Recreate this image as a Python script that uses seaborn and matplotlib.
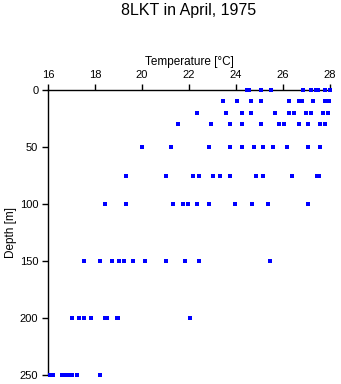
import numpy as np
import pandas as pd
import seaborn as sns
from matplotlib import pyplot as plt

# temperature readings [degC] per depth [m]
t_0 = [24.46, 24.57, 25.08, 25.48, 26.86, 27.19, 27.39, 27.47, 27.78, 28.0]
t_10 = [23.45, 24.06, 24.65, 25.08, 26.27, 26.68, 26.79, 27.29, 27.78, 27.97]
t_20 = [22.35, 23.56, 24.26, 24.65, 25.67, 26.27, 26.47, 26.98, 27.19, 27.71, 27.90]
t_30 = [21.55, 22.95, 23.76, 24.27, 25.08, 25.84, 26.06, 26.68, 27.08, 27.59, 27.78]
t_50 = [20.02, 21.23, 22.86, 23.76, 24.27, 24.77, 25.16, 25.58, 26.18, 27.08, 27.59]
t_75 = [19.31, 21.03, 22.15, 22.44, 23.04, 23.34, 23.76, 24.87, 25.16, 26.37, 27.46, 27.52]
t_100 = [18.41, 19.31, 21.34, 21.74, 21.95, 22.35, 22.86, 23.97, 24.67, 25.38, 27.08]
t_150 = [17.53, 18.21, 18.72, 19.00, 19.22, 19.63, 20.14, 21.04, 21.85, 22.44, 25.46]
t_200 = [17.01, 17.30, 17.52, 17.81, 18.42, 18.51, 18.92, 18.99, 22.03]
t_250 = [16.10, 16.20, 16.59, 16.71, 16.81, 16.92, 17.02, 17.22, 18.21]

depths = [0, 10, 20, 30, 50, 75, 100, 150, 200, 250]
temps = [t_0, t_10, t_20, t_30, t_50, t_75, t_100, t_150, t_200, t_250]

df = pd.DataFrame({
    'temp': [t for row in temps for t in row],
    'depth': [d for d, row in zip(depths, temps) for _ in row],
})

sns.set_style('ticks')
plt.rcParams['font.family'] = ['Liberation Sans', 'DejaVu Sans']
plt.rcParams['text.color'] = 'black'
plt.rcParams['axes.labelcolor'] = 'black'
plt.rcParams['xtick.color'] = 'black'
plt.rcParams['ytick.color'] = 'black'

fig = plt.figure(figsize=(3.41, 3.84), dpi=100)
ax = fig.add_axes([48 / 341, 1 - 375 / 384, 282 / 341, 285 / 384])

sns.scatterplot(data=df, x='temp', y='depth', ax=ax, color='#0000ff',
                marker='s', s=6, linewidth=0, clip_on=False, zorder=5)

ax.set_xlim(16, 28)
ax.set_ylim(250, 0)
ax.set_xticks([16, 18, 20, 22, 24, 26, 28])
ax.set_yticks([0, 50, 100, 150, 200, 250])
ax.xaxis.tick_top()
ax.xaxis.set_label_position('top')
ax.set_xlabel('Temperature [°C]', fontsize=8.5, labelpad=4)
ax.set_ylabel('Depth [m]', fontsize=8.5, labelpad=2)
ax.tick_params(labelsize=8, length=4, width=1, pad=3)
for side in ['bottom', 'right']:
    ax.spines[side].set_visible(False)
for side in ['top', 'left']:
    ax.spines[side].set_color('black')
    ax.spines[side].set_linewidth(1)
    ax.spines[side].set_zorder(1)

# title sits centred over the axes, not the figure
fig.text(189 / 341, 1 - 10 / 384, '8LKT in April, 1975', fontsize=11.5,
         ha='center', va='center')
fig.savefig('out.png', dpi=100)
